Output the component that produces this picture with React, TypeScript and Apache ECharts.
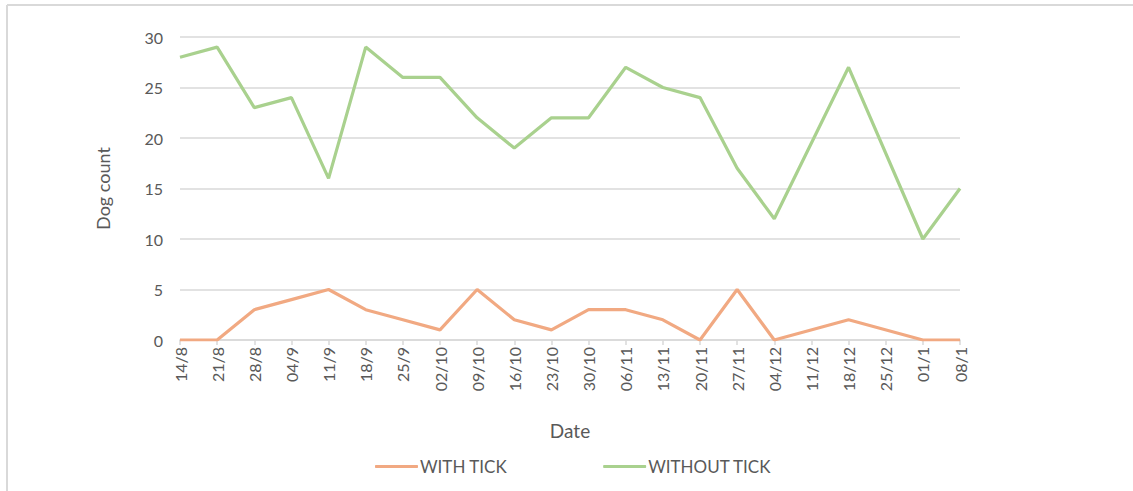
import React, { useEffect, useRef } from "react";
import * as echarts from "echarts";

const dates = ["14/8", "21/8", "28/8", "04/9", "11/9", "18/9", "25/9", "02/10", "09/10", "16/10", "23/10", "30/10", "06/11", "13/11", "20/11", "27/11", "04/12", "11/12", "18/12", "25/12", "01/1", "08/1"];
const withTick = [0, 0, 3, 4, 5, 3, 2, 1, 5, 2, 1, 3, 3, 2, 0, 5, 0, null, 2, null, 0, 0];
const withoutTick = [28, 29, 23, 24, 16, 29, 26, 26, 22, 19, 22, 22, 27, 25, 24, 17, 12, null, 27, null, 10, 15];
const yTicks = [0, 5, 10, 15, 20, 25, 30];

const FONT = "Lato, 'Open Sans', sans-serif";

export default function App() {
  const ref = useRef<HTMLDivElement>(null);
  useEffect(() => {
    if (!ref.current) return;
    const chart = echarts.init(ref.current, null, { renderer: "svg" });
    chart.setOption({
      animation: false,
      backgroundColor: "#ffffff",
      textStyle: { fontFamily: FONT },
      grid: { left: 180, right: 173, top: 37, bottom: 151, containLabel: false },
      graphic: [
        { type: "line", shape: { x1: 7, y1: 5, x2: 1133, y2: 5 }, style: { stroke: "#D9D9D9", lineWidth: 2 } },
        { type: "line", shape: { x1: 7, y1: 5, x2: 7, y2: 491 }, style: { stroke: "#D9D9D9", lineWidth: 2 } },
      ],
      legend: {
        bottom: 11,
        left: 370,
        itemGap: 96,
        itemWidth: 43,
        itemHeight: 3,
        icon: "roundRect",
        textStyle: { color: "#595959", fontSize: 17, fontFamily: FONT, padding: [0, 0, 0, -3] },
        data: ["WITH TICK", "WITHOUT TICK"],
      },
      xAxis: {
        type: "category",
        data: dates,
        boundaryGap: false,
        name: "Date",
        nameLocation: "middle",
        nameGap: 81,
        nameTextStyle: { color: "#595959", fontSize: 19, fontFamily: FONT },
        axisLine: { lineStyle: { color: "#D9D9D9", width: 1.5 } },
        axisTick: { show: true, alignWithLabel: true, length: 5, lineStyle: { color: "#D9D9D9", width: 1.5 } },
        axisLabel: { rotate: 90, color: "#595959", fontSize: 16, fontFamily: FONT, margin: 7, interval: 0 },
      },
      yAxis: {
        type: "value",
        min: 0,
        max: 30,
        interval: 5,
        name: "Dog count",
        nameLocation: "middle",
        nameGap: 68,
        nameTextStyle: { color: "#595959", fontSize: 18, fontFamily: FONT },
        axisLine: { show: false },
        axisTick: { show: false },
        axisLabel: {
          color: "#595959",
          fontSize: 16,
          fontFamily: FONT,
          margin: 17,
          formatter: (v: number) => (yTicks.includes(v) ? String(v) : ""),
        },
        splitLine: { lineStyle: { color: "#D9D9D9", width: 1.5 } },
      },
      series: [
        {
          name: "WITH TICK",
          type: "line",
          data: withTick,
          connectNulls: true,
          showSymbol: false,
          symbol: "none",
          lineStyle: { color: "#F1A982", width: 3.2 },
          itemStyle: { color: "#F1A982" },
        },
        {
          name: "WITHOUT TICK",
          type: "line",
          data: withoutTick,
          connectNulls: true,
          showSymbol: false,
          symbol: "none",
          lineStyle: { color: "#A9D18E", width: 3.2 },
          itemStyle: { color: "#A9D18E" },
        },
      ],
    });
    return () => chart.dispose();
  }, []);
  return <div ref={ref} style={{ position: "fixed", left: 0, top: 0, width: 1133, height: 491 }} />;
}
